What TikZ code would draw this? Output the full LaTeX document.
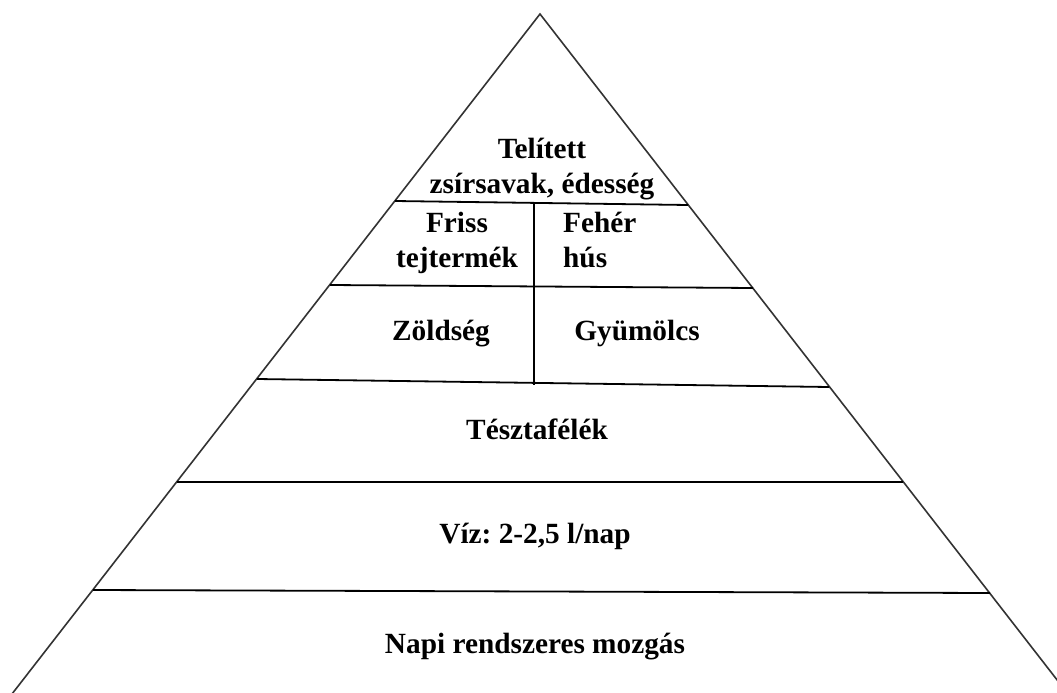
\documentclass[tikz,border=0pt]{standalone}
\usepackage{fontspec}
\setmainfont{Liberation Serif}
\frenchspacing
\newcommand{\pyr}{\fontsize{29.3}{35}\selectfont\bfseries}

\begin{document}
\begin{tikzpicture}[x=1pt,y=-1pt,
  edge/.style={draw=black!80,line width=1.6pt},
  shelf/.style={draw=black,line width=1.8pt},
  txt/.style={inner sep=0pt,anchor=base,font=\pyr}]
  \useasboundingbox[fill=white] (0,0) rectangle (1057,693);
  \clip (0,0) rectangle (1057,693);
  \coordinate (apex) at (540,14);
  \coordinate (bl) at (-2,712);
  \coordinate (br) at (1082,712);
  \coordinate (a1) at (395,201);   \coordinate (b1) at (688,205);
  \coordinate (a2) at (330,285);   \coordinate (b2) at (753,288);
  \coordinate (a3) at (257,379);   \coordinate (b3) at (829,387);
  \coordinate (a4) at (177,482);   \coordinate (b4) at (903,482);
  \coordinate (a5) at (93,590);    \coordinate (b5) at (990,593);
  \coordinate (m1) at (534,202);   \coordinate (m2) at (534,385);
  \draw[edge] (bl) -- (apex) -- (br);
  \draw[shelf] (a1) -- (b1);
  \draw[shelf] (a2) -- (b2);
  \draw[shelf] (a3) -- (b3);
  \draw[shelf] (a4) -- (b4);
  \draw[shelf] (a5) -- (b5);
  \draw[shelf] (m1) -- (m2);
  \node[txt,align=center] (sweets) at (542,193) {Telített\\zsírsavak, édesség};
  \node[txt,align=center] (dairy) at (457,267) {Friss\\tejtermék};
  \node[txt,align=left,anchor=base west] (meat) at (563,267) {Fehér\\hús};
  \node[txt] (veg) at (441,340) {Zöldség};
  \node[txt] (fruit) at (637,340) {Gyümölcs};
  \node[txt] (pasta) at (537,439) {Tésztafélék};
  \node[txt] (water) at (535,543) {Víz: 2-2,5 l/nap};
  \node[txt] (move) at (535,653) {Napi rendszeres mozgás};
\end{tikzpicture}
\end{document}
